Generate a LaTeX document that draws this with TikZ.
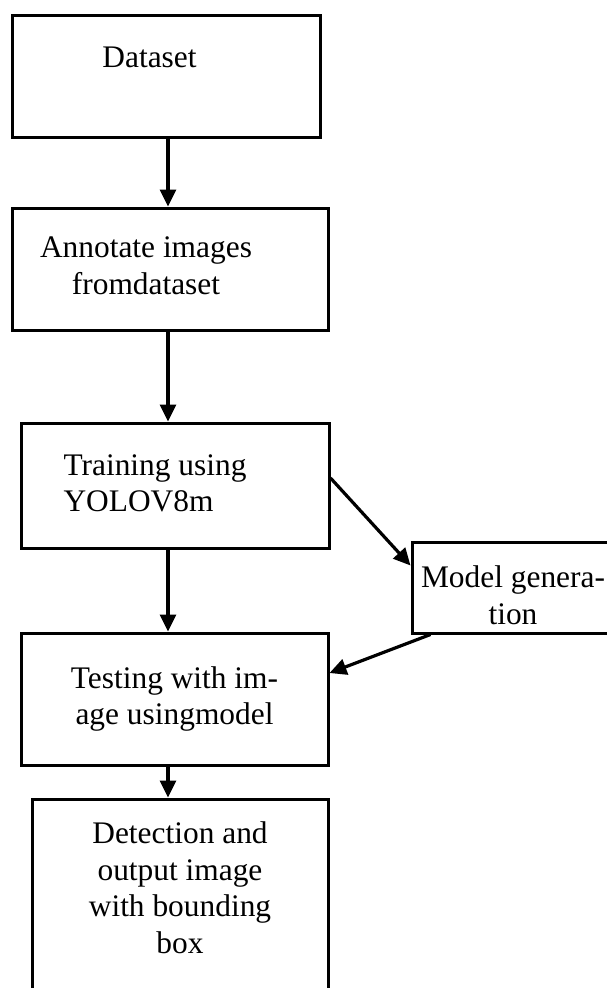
\documentclass[tikz,border=0pt]{standalone}
\usepackage{fontspec}
\setmainfont{Liberation Serif}
\usetikzlibrary{arrows.meta,positioning}

\begin{document}
\begin{tikzpicture}[x=1pt, y=-1pt,
    stage/.style={rectangle, draw=black, line width=3pt, align=center,
                  font=\fontsize{31.4}{36.5}\selectfont, inner sep=0pt},
    txt/.style={align=center, font=\fontsize{31.4}{36.5}\selectfont, inner sep=0pt},
    arr/.style={-{Triangle[length=17pt, width=16pt]}, black, line width=3.2pt}
  ]
  \useasboundingbox (0,0) rectangle (606,988);

  \node[stage, minimum width=308pt, minimum height=122pt,
        label={[txt, xshift=-16.5pt, yshift=18.5pt]center:Dataset}] (dataset) at (166,76) {};
  \node[stage, minimum width=316pt, minimum height=122pt,
        label={[txt, xshift=-24pt, yshift=3pt]center:Annotate images\\fromdataset}] (annot) at (170,269) {};
  \node[stage, minimum width=308pt, minimum height=125pt,
        label={[txt, align=left, xshift=-20pt, yshift=2pt]center:Training using\\YOLOV8m}] (train) at (175,485.5) {};
  \node[stage, minimum width=202pt, minimum height=91pt,
        label={[txt, yshift=-8pt]center:Model genera-\\tion}] (model) at (513,587.5) {};
  \node[stage, minimum width=307pt, minimum height=132pt] (test) at (174.5,699)
        {Testing with im-\\age usingmodel};
  \node[stage, minimum width=296pt, minimum height=214pt] (detect) at (180,906)
        {Detection and\\output image\\with bounding\\box\\\mbox{}};

  \coordinate (axis) at (168,0);
  \draw[arr] (axis |- dataset.south) -- (axis |- annot.north);
  \draw[arr] (axis |- annot.south) -- (axis |- train.north);
  \draw[arr] (axis |- train.south) -- (axis |- test.north);
  \draw[arr] (axis |- test.south) -- (axis |- detect.north);
  \draw[arr] ([yshift=7.5pt]train.east) -- ([yshift=22pt]model.west);
  \draw[arr] ([xshift=20pt]model.south west) -- ([yshift=26pt]test.east);
\end{tikzpicture}
\end{document}
